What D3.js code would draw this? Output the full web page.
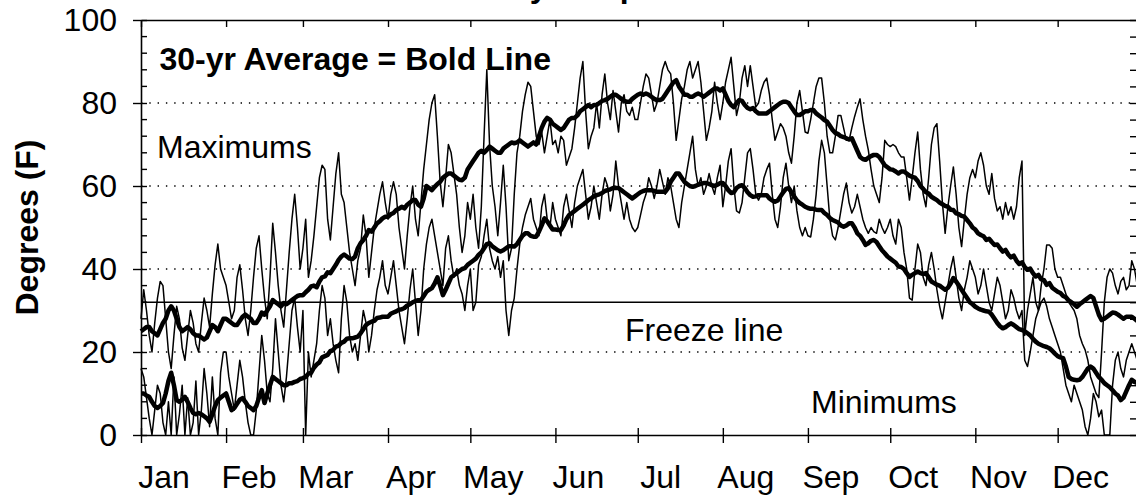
<!DOCTYPE html>
<html><head><meta charset="utf-8">
<script src="https://cdn.jsdelivr.net/npm/d3@7"></script>
<style>
body{margin:0;background:#fff;}
svg{display:block;font-family:Arial,"Liberation Sans",Helvetica,sans-serif;}
</style>
</head><body>
<svg id="chart" width="1136" height="498"></svg>
<script>
// ---------- DATA ----------
const titleText = "Daily Temperatures";
const yLabel = "Degrees (F)";
const months = ["Jan","Feb","Mar","Apr","May","Jun","Jul","Aug","Sep","Oct","Nov","Dec"];
const monthStartDay = [1,32,60,91,121,152,182,213,244,274,305,335];
const yTicks = [0,20,40,60,80,100];
const gridValues = [20,40,60,80];
const freezeValue = 32;

// 30-yr average daily maximum (bold)
const avgMax = [
25,25.5,26,26,25,24.5,24,25.5,27,28,30,31,30,28,26,25,25.5,26,25.5,24.5,24,24,23.5,23,23.5,25,26.5,26,25,26.5,28,
28,27.5,27,26.5,26.5,27.5,28.5,29,28.5,28,27,27,28,29.5,29,30,31,32.5,32,31.5,31,31.8,31.5,32,32.5,33,33.5,33.7,
33.7,34.4,35,35.8,36,35.6,37,38,38.2,39.2,39,40,41,42.2,43,43.5,43,42.5,42.4,43,45,46.2,47,48,49.4,49,50,51,51.5,52.2,52.6,
52.6,53.2,53.5,54.2,54.5,55,54.6,55.5,56,56.6,56.6,55.5,55,57,60,59.5,59,59.8,60.5,61,62,62.5,63,63,62.5,62,61.5,61.4,62,64,
65,66,67,68,68.5,68,68.7,69.5,69,68.5,68,68,69,69.5,70,70.5,70.3,70.5,71,70.5,70,69.5,70,70.5,70,72,74,75.5,76.4,76,75,
74.5,74,73.5,74,75,76,76.4,76.4,77,78,78.5,79,79.5,79,79.5,79.5,80,80.5,80.7,81,81.5,82,82,81.5,81,80.5,80.3,80.3,81,81.5,
82,82.3,82,82.3,82,81.5,81,80.7,80.7,81,82,83,84,85,85.5,84,83,82,82,81.5,81.5,82,82.3,82,81.5,82,82.5,83,83.5,83.5,83,
83.5,82,80.5,79.5,79,80,80.7,80.5,79.5,78.8,78.5,78.8,78,77.5,77.5,77.5,77.5,78,78.5,79,79.5,80,80.3,80.3,80,79,78,77.1,77.1,77.5,78,
78,78.3,78.3,77.5,77,76.5,75.9,75.5,74.5,73.5,72.8,72.5,72,71.8,71.5,71.2,71.5,70,68.5,67,66.5,66.3,66.8,67.2,67.5,67.5,67,66,65,64.5,
64,63.9,63.5,63,63.5,63.5,63,62.5,62.2,62,61.2,60,59.3,58.5,58.2,57.4,57,56.6,56,55.6,55.2,55,54.3,54.2,53.4,53.2,52.8,52.6,51.8,51,50,
49.5,48.6,48.2,47.9,47,47.3,46.5,45.8,45.9,45,44.2,44.6,43.5,42.8,43.2,42,41.2,41.6,40.5,39.8,40.1,39,38.2,38.6,37.5,37.3,36.2,36.6,35.5,35,
34.5,34.2,33.5,33.2,32.4,32,31.5,30.9,31.5,32,32.5,33,33.5,33,31,29,27.7,28,28.5,29,29.5,29.4,29,28.5,28,28.5,28.5,28.5,28,27.5,27.5
];

// 30-yr average daily minimum (bold)
const avgMin = [
10,10,9.5,9.2,8,7,6.5,7,7.7,10,13,15,12,8.4,8,8.5,9.2,8,6.5,5.3,5,5.3,5,4.5,4,3.2,5,7,8.4,9,9.5,
10,8,6,6.5,7.5,8.5,8.9,8,7,6.5,6,7,9,10.8,7.7,10,12,14,13.5,13,12.5,12,12,12.5,12.5,12.8,13,13.5,
13.7,14,14.8,15,16.2,17,17.5,18.7,19,19.3,20.2,20.5,21.3,21.5,22.2,22.5,23.2,23.3,23.3,23.5,23.7,24.5,25.5,26.5,27,27.3,27.5,28.2,28.3,28.5,28.5,
28.5,29.2,29.5,29.8,30.2,30.3,30.6,31.2,31.5,32,32.3,32.5,32.5,33.5,34.5,35,35.4,36.5,38,36,33.7,35,36.5,38,38.5,39,39.5,40,40.2,41,
41.5,42,42.5,43.4,44,45,46,46.2,45.5,45,44.5,44.2,44.5,45,45.5,45.5,45.4,46,47,48,48.6,48.6,48,47.8,47.8,49,50.5,52.2,51.5,50.5,49.5,
49.5,49.4,49.4,50.5,52,53,53.5,54,54.5,55,55.5,56,56.6,57,57.5,57.8,58,58.3,58.8,59,59.2,59.5,59.5,59.5,59,58.5,58,57.5,57,57.5,
58,58.5,58.8,59,59,59,58.8,58.6,58.6,58.6,58.6,59.5,61,62,63,63,62,61,60.5,60,59.8,60,60.3,60.5,60.7,60.7,60.5,60.2,60,60.3,60.7,
60.7,60,59,58.3,58.5,59.5,60,60.2,59.5,58.5,57.8,57.4,57.5,57.8,57.8,57.8,57.8,57,56.5,56.2,56.5,57.5,58.5,59.3,59.5,58.5,57.5,56.5,55.9,55.5,55,
54.7,54.5,54.5,54.3,54.2,54.2,53.5,53,52.3,51.8,51.5,51.2,50.5,50.2,50.5,51,51,50,48.6,48,47,45.8,46.2,46.8,47,46.5,45.5,44.5,43.8,43,
42.5,42,41.5,40.6,40.5,40,39,38.1,38.6,39,39.4,39,38.8,39,38,37,36.6,36.2,36,35.5,35,35.5,36.5,37.8,37,36,35,34,33,32,31.5,
30.9,30.5,30.2,30,29.8,29.7,29,28,27,26.2,25.7,26,26.5,26.9,26.5,26,25.5,25.3,25,24.5,24,23.2,22.5,22,21.7,21.4,21.2,20.9,20.3,19.6,
19,18.7,18.5,16.5,14,13.5,13.3,13.2,13.3,14,15,16,16.5,16,15,14,13.3,12.5,12,11.5,10.8,10,9.5,8.4,9,10.5,12,13.3,12.8,12.5,12
];

// this year's daily maximum (thin)
const dailyMax = [
28,35,30,24,20,27,33,37,36,28,20,16,24,31,28,21,18,24,30,27,22,20,27,33,30,26,34,41,46,40,38,
36,32,28,30,38,41,35,28,24,30,38,45,48,40,33,28,38,51,44,36,30,26,35,44,52,58,50,40,
45,52,38,42,48,55,62,65,64,52,47,55,63,68,58,56,50,44,40,36,42,45,53,48,38,44,50,54,58,61,56,
52,58,61,58,50,45,40,48,55,60,52,48,56,64,70,76,80,82,72,61,55,62,70,68,63,58,50,44,48,56,
52,58,50,45,55,72,88,70,60,55,48,56,65,55,42,45,58,68,72,78,82,85,84,78,72,70,73,68,72,76,70,
71,68,72,71,65,67,69,74,80,86,90,78,69,72,74,80,74,82,87,80,76,83,78,73,80,82,78,77,79,76,
76,80,84,87,86,82,78,80,84,88,90,88,87,80,71,76,81,84,88,90,86,88,90,85,78,71,74,78,85,80,76,
80,85,88,91,84,77,80,86,89,84,89,84,79,80,83,85,86,82,76,71,73,75,74,72,68,65.5,72,80,83,78,73,
72.7,76,80,84,86,86,80,72,68,68,72,77,77,74,71,71,74,76.7,79,81,76,72,68.7,64,60,58,56,62,71,70,
69.5,70,69.5,68,67,67,62,56.6,62,68,73,64,58,55,62,70,74,75,66,56,48.6,55,60,64.6,58,50,45.4,52,58,62,64,
62,66,68,65,60,58,63,57,54,55,52,56,53,55,52,55,62,66,24,30,34,38,32,30,36,40,45.8,45.8,45,40,
38,38,36,34,32,31,30,28,24,22,20.5,18,14,12,10,9,20,32,38,40,39,36,34,37,38,35,36,42,40,36,34
];

// this year's daily minimum (thin)
const dailyMin = [
16,14,9,4,0,6,12,10,3,0,8,0,14,0,5,12,0,9,0,3,13,0,6,16,10,2,14,4,0,15,20,
20,14,10,6,12,18,14,8,3,0,0,6,15,24,18,10,8,16,28,20,12,8,14,22,30,33,26,20,
30,0,20,14,18,22,30,36,33,24,28,22,18,15,28,36,32,24,20,22,18,24,30,27,20,24,30,35,38,42,36,
34,38,42,36,30,26,22,28,35,40,32,24,30,40,46,50,52,48,44,40,36,45,48,42,38,40,36,34,30,36,
40,30,32,41,43,48,52,45,42,40,43,38,42,30,24,30,33,40,46,50,53,55,57,52,50,48,55,58,52,50,56,
52,50,48,55,58,54,50,56,60,62,64,58,52,55,60,56,52,58,62,60,54,58,66,60,56,52,56,52,50,49,
50,53,56,58,62,60,57,60,64,61,58,62,60,56,52,50,56,60,64,68,72,64,60,62,58,60,63,60,58,62,65,
55,60,66,69,60,54,53.5,56,62,68,69,64,58,56.6,58,62,64,65.5,58,52,50,55,62,65.5,60,56,60,54,50,48,50,
48,47.7,52,58,66,71,68,60,52,48,47,50,54,58,60.7,56,53.5,55,58,55,52,50,48.6,50,49,48.6,52,50,48.6,50,
52,48,46,52,50,44,40,33,32.5,40,46,44,38,36,41,44,40,35,31,28,32,36,40,43,38,33,30,35,38,42,40,
38,34,36,40,36,32,30,34,38,36,32,28,30,35,33,30,28,30,18,16.5,20,24,28,30,32,33,31,28,26,24,
22,20,16,12,10,8,12,10,8,6,2,0,4,10,8,4.4,6,0,0,0,12,18,20,16,14,18,20,22,20,18,16
];

// ---------- CHART ----------
const svg = d3.select("#chart");
const FONT = 32;
const x = d3.scaleLinear().domain([1, 365]).range([141, 1140]);
const y = d3.scaleLinear().domain([0, 100]).range([435, 20]);
const x0 = x.range()[0], x1 = x.range()[1];
const y0 = y.range()[0], y1 = y.range()[1];

// dotted grid
svg.append("g").selectAll("line").data(gridValues).join("line")
  .attr("x1", x0).attr("x2", x1)
  .attr("y1", d => y(d)).attr("y2", d => y(d))
  .attr("stroke", "#000").attr("stroke-width", 1.4)
  .attr("stroke-dasharray", "1.4 6.9");

// freeze line
svg.append("line")
  .attr("x1", x0).attr("x2", x1)
  .attr("y1", y(freezeValue)).attr("y2", y(freezeValue))
  .attr("stroke", "#000").attr("stroke-width", 1.4);

// series
const line = d3.line().x((d, i) => x(i + 1)).y(d => y(d));
const series = [
  {data: dailyMax, w: 1.5},
  {data: dailyMin, w: 1.5},
  {data: avgMax, w: 4.5},
  {data: avgMin, w: 4.5}
];
svg.append("g").selectAll("path").data(series).join("path")
  .attr("d", d => line(d.data))
  .attr("fill", "none").attr("stroke", "#000")
  .attr("stroke-width", d => d.w)
  .attr("stroke-linejoin", "round");

// bottom axis (month ticks crossing)
const gB = svg.append("g").attr("transform", `translate(0,${y0})`)
  .call(d3.axisBottom(x).tickValues(monthStartDay).tickSizeInner(8).tickSizeOuter(0).tickFormat(""));
gB.selectAll(".tick line").attr("y1", -7).attr("y2", 8).attr("stroke-width", 1.4);
gB.select(".domain").attr("stroke-width", 1.6);

// month labels
svg.append("g").selectAll("text").data(months).join("text")
  .attr("x", (d, i) => x(monthStartDay[i]) + 23)
  .attr("y", 487.5)
  .attr("text-anchor", "middle")
  .attr("font-size", FONT)
  .text(d => d);

// top axis (inward ticks)
const gT = svg.append("g").attr("transform", `translate(0,${y1})`)
  .call(d3.axisTop(x).tickValues(monthStartDay).tickSizeInner(-7).tickSizeOuter(0).tickFormat(""));
gT.selectAll(".tick line").attr("stroke-width", 1.4);
gT.select(".domain").attr("stroke-width", 1.6);

// left axis
const gL = svg.append("g").attr("transform", `translate(${x0},0)`)
  .call(d3.axisLeft(y).tickValues(yTicks).tickSizeInner(8).tickSizeOuter(0).tickPadding(16));
gL.selectAll(".tick line").attr("x1", 6).attr("stroke-width", 1.4);
gL.select(".domain").attr("stroke-width", 1.6);
gL.selectAll(".tick text").attr("font-size", FONT).attr("font-family", "Arial, 'Liberation Sans', sans-serif").attr("fill", "#000");

// minor ticks left and right
const minor = d3.range(0, 101, 4);
svg.append("g").selectAll("line").data(minor.filter(v => v % 20 !== 0)).join("line")
  .attr("x1", x0).attr("x2", x0 + 6)
  .attr("y1", d => y(d)).attr("y2", d => y(d))
  .attr("stroke", "#000").attr("stroke-width", 1.4);

const gR = svg.append("g").attr("transform", `translate(${x1},0)`)
  .call(d3.axisRight(y).tickValues(minor).tickSizeInner(-10).tickSizeOuter(0).tickFormat(""));
gR.selectAll(".tick line").attr("stroke-width", 1.4);
gR.select(".domain").attr("stroke-width", 1.6);

// annotations
svg.append("text").attr("x", 159.4).attr("y", 70)
  .attr("font-size", FONT).attr("font-weight", "bold").text("30-yr Average = Bold Line");
svg.append("text").attr("x", 157).attr("y", 158)
  .attr("font-size", FONT).text("Maximums");
svg.append("text").attr("x", 625).attr("y", 340.7)
  .attr("font-size", FONT).text("Freeze line");
svg.append("text").attr("x", 811).attr("y", 412.7)
  .attr("font-size", FONT).text("Minimums");

// title: in the reference only the descenders show above the frame
svg.append("text").attr("x", 471).attr("y", -3.5)
  .attr("font-size", FONT).attr("font-weight", "bold").text(titleText);

// y label
svg.append("text")
  .attr("transform", `translate(38,${(y0 + y1) / 2}) rotate(-90)`)
  .attr("text-anchor", "middle")
  .attr("font-size", FONT).attr("font-weight", "bold")
  .text(yLabel);
</script>
</body></html>
